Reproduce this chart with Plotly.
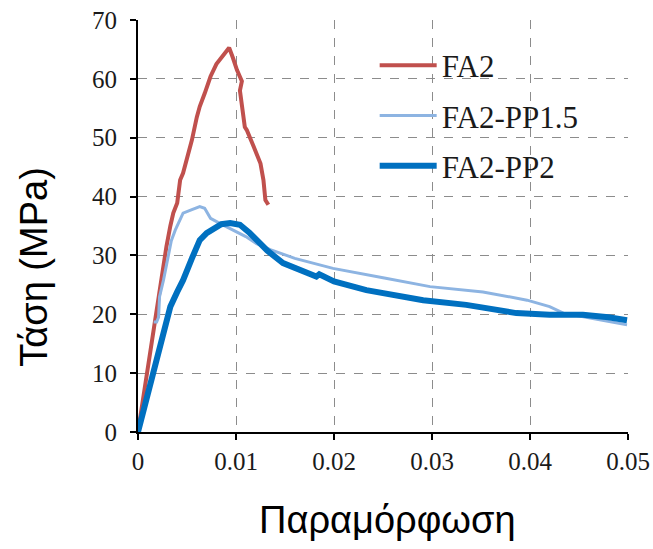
import plotly.graph_objects as go

# Stress-strain curves (strain [-], stress [MPa])
fa2_strain = [0, 0.0026, 0.0029, 0.0033, 0.0036, 0.0040, 0.0043, 0.0046, 0.0050,
              0.0055, 0.0060, 0.0063, 0.0068, 0.0074, 0.0080, 0.0087, 0.0093,
              0.0097, 0.0101, 0.0106, 0.0104, 0.0109, 0.0111, 0.0118, 0.0125,
              0.0128, 0.0130, 0.0133]
fa2_stress = [0, 29.2, 31.5, 35.0, 37.2, 38.9, 42.8, 44.0, 46.5,
              49.6, 53.5, 55.3, 57.5, 60.4, 62.5, 64.0, 65.3,
              63.5, 61.5, 59.6, 58.0, 51.8, 51.3, 48.5, 45.6,
              42.8, 39.4, 38.6]

pp15_strain = [0.0016, 0.0019, 0.0021, 0.0022, 0.0026, 0.0031, 0.0034, 0.0038,
               0.0046, 0.0055, 0.0063, 0.0068, 0.0074, 0.0084, 0.0097, 0.0110,
               0.0121, 0.0135, 0.0160, 0.0199, 0.0250, 0.0298, 0.0352, 0.0397,
               0.0420, 0.0434, 0.0460, 0.0499]
pp15_stress = [18.7, 18.7, 19.5, 23.0, 25.8, 30.4, 32.5, 34.3,
               37.2, 37.8, 38.3, 38.0, 36.3, 35.4, 34.3, 33.2,
               32.0, 31.0, 29.5, 27.8, 26.2, 24.7, 23.8, 22.4,
               21.3, 20.2, 19.4, 18.2]

pp2_strain = [0, 0.0033, 0.0040, 0.0046, 0.0055, 0.0063, 0.0070, 0.0077,
              0.0085, 0.0094, 0.0104, 0.0114, 0.0121, 0.0132, 0.0148, 0.0160,
              0.0182, 0.0185, 0.0200, 0.0233, 0.0260, 0.0291, 0.0335, 0.0360,
              0.0386, 0.0420, 0.0454, 0.0480, 0.0499]
pp2_stress = [0, 21.3, 23.8, 25.8, 29.5, 32.6, 33.8, 34.6,
              35.3, 35.5, 35.2, 33.8, 32.6, 30.8, 28.7, 27.8,
              26.4, 26.8, 25.6, 24.1, 23.2, 22.4, 21.6, 21.0,
              20.2, 19.9, 19.9, 19.5, 19.0]

x_ticks = [0, 0.01, 0.02, 0.03, 0.04, 0.05]
x_tick_text = ["0", "0.01", "0.02", "0.03", "0.04", "0.05"]
y_ticks = [0, 10, 20, 30, 40, 50, 60, 70]

serif = "Times New Roman, Liberation Serif, DejaVu Serif, serif"
sans = "Arial, Liberation Sans, sans-serif"

fig = go.Figure()
fig.add_trace(go.Scatter(x=fa2_strain, y=fa2_stress, mode="lines", name="FA2",
                         legendgroup="a",
                         line=dict(color="#C0504D", width=4)))
fig.add_trace(go.Scatter(x=pp15_strain, y=pp15_stress, mode="lines", name="FA2-PP1.5",
                         legendgroup="b",
                         line=dict(color="#8DB4E2", width=3)))
fig.add_trace(go.Scatter(x=pp2_strain, y=pp2_stress, mode="lines", name="FA2-PP2",
                         legendgroup="c",
                         line=dict(color="#0070C0", width=6)))

grid = dict(showgrid=True, gridcolor="#8C8C8C", griddash="dash", gridwidth=1)
tick_font = dict(family=serif, size=25, color="#1a1a1a")

fig.update_xaxes(range=[0, 0.05], tickvals=x_ticks, ticktext=x_tick_text,
                 showline=True, linecolor="black", linewidth=2,
                 ticks="outside", ticklen=6, tickcolor="black", tickwidth=2,
                 tickfont=tick_font, automargin=False,
                 zeroline=False, **grid)
fig.update_yaxes(range=[0, 70], tickvals=y_ticks,
                 showline=True, linecolor="black", linewidth=2,
                 ticks="outside", ticklen=6, tickcolor="black", tickwidth=2,
                 tickfont=tick_font, automargin=False, ticklabelstandoff=8,
                 zeroline=False, **grid)

fig.add_annotation(text="Παραμόρφωση", xref="paper", yref="paper",
                   x=0.51, y=-0.213, xanchor="center", yanchor="middle",
                   showarrow=False, font=dict(family=sans, size=38, color="black"))
fig.add_annotation(text="Τάση (MPa)", xref="paper", yref="paper",
                   x=-0.211, y=0.40, xanchor="center", yanchor="middle", textangle=-90,
                   showarrow=False, font=dict(family=sans, size=38, color="black"))

fig.update_layout(
    width=653, height=549,
    margin=dict(l=138, r=25, t=20, b=117, autoexpand=False),
    paper_bgcolor="white", plot_bgcolor="white",
    legend=dict(x=0.483, y=0.955, xanchor="left", yanchor="top",
                bgcolor="rgba(255,255,255,0)", itemwidth=57,
                font=dict(family=serif, size=31, color="#1a1a1a"),
                tracegroupgap=7),
)

fig.write_html("out.html")
